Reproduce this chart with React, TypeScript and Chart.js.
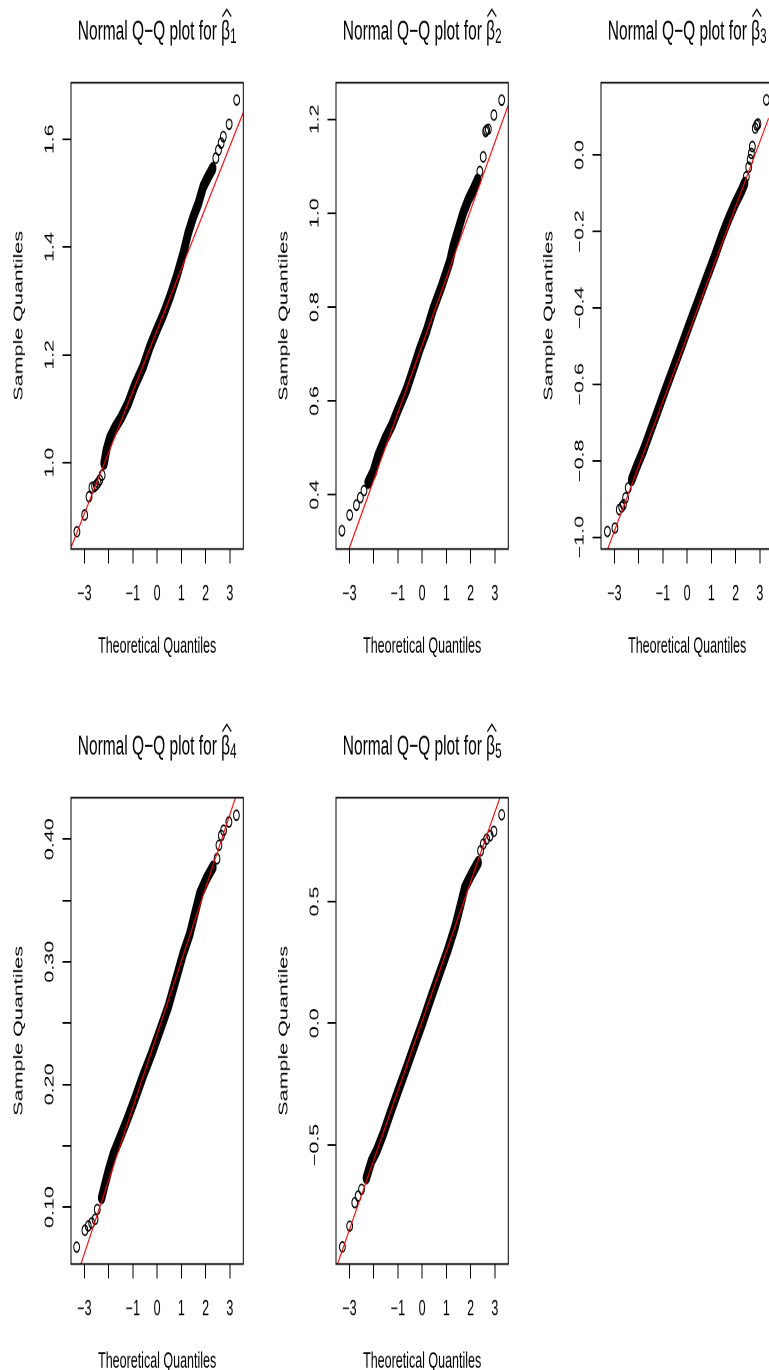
import React, { useEffect, useRef } from "react";
import { Chart, registerables } from "chart.js";

Chart.register(...registerables);

// ---------- data ----------
const xTicks = [-3, -2, -1, 0, 1, 2, 3];
const xTickLabels = ["−3", "", "−1", "0", "1", "2", "3"];
const xRange = [-3.554, 3.554];
const titleMain = "Normal Q−Q plot for ";
const xTitle = "Theoretical Quantiles";
const yTitle = "Sample Quantiles";

// beta 1
const b1SparseQ = [-3.31, -2.99, -2.81, -2.69, -2.58, -2.51, -2.44, -2.37, -2.27, 2.42, 2.53, 2.64, 2.73, 2.97, 3.28];
const b1SparseS = [0.872, 0.903, 0.937, 0.954, 0.956, 0.959, 0.963, 0.968, 0.977, 1.565, 1.58, 1.593, 1.605, 1.628, 1.673];
const b1DenseQ = [-2.19, -2.09, -1.96, -1.75, -1.47, -1.2, -0.92, -0.58, -0.3, -0.02, 0.25, 0.53, 0.8, 1.08, 1.28, 1.49, 1.7, 1.9, 2.11, 2.29];
const b1DenseS = [0.999, 1.024, 1.045, 1.064, 1.085, 1.11, 1.144, 1.178, 1.215, 1.246, 1.274, 1.308, 1.345, 1.389, 1.426, 1.456, 1.481, 1.512, 1.531, 1.546];
const b1LineQ = [-3.57, 3.56];
const b1LineS = [0.841, 1.651];
const b1YRange = [0.84, 1.705];
const b1YTicks = [1.0, 1.2, 1.4, 1.6];
const b1YLabels = ["1.0", "1.2", "1.4", "1.6"];

// beta 2
const b2SparseQ = [-3.31, -2.99, -2.71, -2.55, -2.4, 2.38, 2.52, 2.62, 2.66, 2.73, 2.96, 3.28];
const b2SparseS = [0.3235, 0.357, 0.378, 0.394, 0.409, 1.089, 1.12, 1.174, 1.177, 1.179, 1.209, 1.241];
const b2DenseQ = [-2.23, -2.02, -1.82, -1.54, -1.26, -0.99, -0.64, -0.37, -0.1, 0.18, 0.45, 0.8, 1.14, 1.28, 1.49, 1.69, 1.9, 2.11, 2.29];
const b2DenseS = [0.426, 0.448, 0.483, 0.518, 0.547, 0.582, 0.625, 0.667, 0.71, 0.749, 0.795, 0.844, 0.897, 0.929, 0.965, 1.0, 1.028, 1.05, 1.071];
const b2LineQ = [-3.02, 3.55];
const b2LineS = [0.2846, 1.23];
const b2YRange = [0.2846, 1.278];
const b2YTicks = [0.4, 0.6, 0.8, 1.0, 1.2];
const b2YLabels = ["0.4", "0.6", "0.8", "1.0", "1.2"];

// beta 3
const b3SparseQ = [-3.29, -2.98, -2.8, -2.7, -2.63, -2.54, -2.43, 2.44, 2.54, 2.6, 2.65, 2.69, 2.81, 2.87, 2.92, 3.27];
const b3SparseS = [-0.985, -0.976, -0.928, -0.921, -0.915, -0.897, -0.871, -0.057, -0.032, -0.012, 0.004, 0.022, 0.07, 0.078, 0.081, 0.144];
const b3DenseQ = [-2.29, -2.08, -1.81, -1.53, -1.26, -0.92, -0.58, -0.23, 0.11, 0.45, 0.8, 1.14, 1.42, 1.69, 1.96, 2.24, 2.37];
const b3DenseS = [-0.85, -0.815, -0.774, -0.725, -0.678, -0.618, -0.56, -0.5, -0.44, -0.382, -0.322, -0.265, -0.214, -0.17, -0.13, -0.094, -0.074];
const b3LineQ = [-3.29, 3.36];
const b3LineS = [-1.033, 0.096];
const b3YRange = [-1.031, 0.189];
const b3YTicks = [-1.0, -0.8, -0.6, -0.4, -0.2, 0.0];
const b3YLabels = ["−1.0", "−0.8", "−0.6", "−0.4", "−0.2", "0.0"];

// beta 4
const b4SparseQ = [-3.32, -2.98, -2.84, -2.7, -2.56, -2.47, 2.47, 2.55, 2.65, 2.74, 2.96, 3.27];
const b4SparseS = [0.0673, 0.081, 0.0845, 0.087, 0.09, 0.098, 0.384, 0.395, 0.403, 0.4072, 0.414, 0.4195];
const b4DenseQ = [-2.29, -2.12, -2.01, -1.81, -1.53, -1.26, -0.92, -0.58, -0.23, 0.11, 0.45, 0.8, 1.07, 1.35, 1.55, 1.76, 2.03, 2.3];
const b4DenseS = [0.1076, 0.121, 0.1294, 0.143, 0.1566, 0.17, 0.188, 0.207, 0.2248, 0.2438, 0.2628, 0.2873, 0.3065, 0.3228, 0.339, 0.3555, 0.3677, 0.3772];
const b4LineQ = [-3.15, 3.24];
const b4LineS = [0.0532, 0.4344];
const b4YRange = [0.0535, 0.4338];
const b4YTicks = [0.1, 0.15, 0.2, 0.25, 0.3, 0.35, 0.4];
const b4YLabels = ["0.10", "", "0.20", "", "0.30", "", "0.40"];

// beta 5
const b5SparseQ = [-3.29, -2.99, -2.78, -2.64, -2.5, 2.41, 2.52, 2.66, 2.8, 2.96, 3.28];
const b5SparseS = [-0.919, -0.833, -0.737, -0.71, -0.682, 0.708, 0.736, 0.756, 0.77, 0.788, 0.856];
const b5DenseQ = [-2.3, -2.09, -1.88, -1.61, -1.33, -0.99, -0.64, -0.3, 0.04, 0.39, 0.73, 1.07, 1.35, 1.56, 1.76, 2.04, 2.31];
const b5DenseS = [-0.635, -0.566, -0.525, -0.456, -0.374, -0.278, -0.182, -0.086, 0.009, 0.112, 0.208, 0.304, 0.393, 0.475, 0.557, 0.612, 0.66];
const b5LineQ = [-3.5, 3.21];
const b5LineS = [-0.991, 0.927];
const b5YRange = [-0.989, 0.926];
const b5YTicks = [-0.5, 0.0, 0.5];
const b5YLabels = ["−0.5", "0.0", "0.5"];

// ---------- layout ----------
const FONT = "'Liberation Sans', Arial, Helvetica, sans-serif";
const K = 1.72; // vertical stretch of the whole figure
const PANEL_W = 265;
const PANEL_H = 714.5;
const CANVAS_H = 416;
const PLOT_LEFT = 71;
const PLOT_RIGHT = 243.3;
const PLOT_TOP = 82.7; // real px
const PLOT_BOTTOM = 549; // real px
const TICK_LEN = 8.5;
const AXIS_FONT = 12.5;
const TITLE_FONT = 15.5;

const pairs = (xs: number[], ys: number[]) => xs.map((x, i) => ({ x, y: ys[i] }));

const boxPlugin = {
  id: "qqBox",
  afterDatasetsDraw(chart: any) {
    const { ctx, chartArea: a } = chart;
    ctx.save();
    ctx.strokeStyle = "#000";
    ctx.lineWidth = 1;
    ctx.strokeRect(a.left, a.top, a.right - a.left, a.bottom - a.top);
    ctx.restore();
  },
};

const titlePlugin = {
  id: "qqTitle",
  afterDraw(chart: any, _args: any, opts: any) {
    const { ctx, chartArea } = chart;
    const f = TITLE_FONT;
    const sf = f * 0.75;
    ctx.save();
    ctx.fillStyle = "#000";
    ctx.strokeStyle = "#000";
    ctx.textAlign = "left";
    ctx.textBaseline = "alphabetic";
    ctx.font = `${f}px ${FONT}`;
    const wMain = ctx.measureText(titleMain).width;
    const wBeta = ctx.measureText("β").width;
    ctx.font = `${sf}px ${FONT}`;
    const wSub = ctx.measureText(opts.sub).width;
    const total = wMain + wBeta + wSub;
    const cx = (chartArea.left + chartArea.right) / 2;
    let x = cx - total / 2;
    const base = 39.3 / K;
    ctx.font = `${f}px ${FONT}`;
    ctx.fillText(titleMain, x, base);
    x += wMain;
    ctx.fillText("β", x, base);
    // hat accent
    ctx.lineWidth = 1;
    ctx.beginPath();
    ctx.moveTo(x + 1.2, base - 13.2);
    ctx.lineTo(x + wBeta / 2 + 1.2, base - 17.4);
    ctx.lineTo(x + wBeta + 1.2, base - 13.2);
    ctx.stroke();
    x += wBeta;
    ctx.font = `${sf}px ${FONT}`;
    ctx.fillText(opts.sub, x, base + 2.4);
    ctx.restore();
  },
};

type PanelSpec = {
  sub: string;
  sparseQ: number[];
  sparseS: number[];
  denseQ: number[];
  denseS: number[];
  lineQ: number[];
  lineS: number[];
  yRange: number[];
  yTicks: number[];
  yLabels: string[];
};

const panels: PanelSpec[] = [
  { sub: "1", sparseQ: b1SparseQ, sparseS: b1SparseS, denseQ: b1DenseQ, denseS: b1DenseS, lineQ: b1LineQ, lineS: b1LineS, yRange: b1YRange, yTicks: b1YTicks, yLabels: b1YLabels },
  { sub: "2", sparseQ: b2SparseQ, sparseS: b2SparseS, denseQ: b2DenseQ, denseS: b2DenseS, lineQ: b2LineQ, lineS: b2LineS, yRange: b2YRange, yTicks: b2YTicks, yLabels: b2YLabels },
  { sub: "3", sparseQ: b3SparseQ, sparseS: b3SparseS, denseQ: b3DenseQ, denseS: b3DenseS, lineQ: b3LineQ, lineS: b3LineS, yRange: b3YRange, yTicks: b3YTicks, yLabels: b3YLabels },
  { sub: "4", sparseQ: b4SparseQ, sparseS: b4SparseS, denseQ: b4DenseQ, denseS: b4DenseS, lineQ: b4LineQ, lineS: b4LineS, yRange: b4YRange, yTicks: b4YTicks, yLabels: b4YLabels },
  { sub: "5", sparseQ: b5SparseQ, sparseS: b5SparseS, denseQ: b5DenseQ, denseS: b5DenseS, lineQ: b5LineQ, lineS: b5LineS, yRange: b5YRange, yTicks: b5YTicks, yLabels: b5YLabels },
];

function QQPanel({ spec, left, top }: { spec: PanelSpec; left: number; top: number }) {
  const ref = useRef<HTMLCanvasElement | null>(null);

  useEffect(() => {
    const canvas = ref.current;
    if (!canvas) return;

    // widest y label, to centre the rotated labels 22px left of the axis
    const mctx = document.createElement("canvas").getContext("2d")!;
    mctx.font = `${AXIS_FONT}px ${FONT}`;
    const widest = Math.max(...spec.yLabels.map((l) => mctx.measureText(l).width));
    const yPad = 21 - TICK_LEN - widest / 2;
    const lineH = AXIS_FONT * 1.2;

    const chart = new Chart(canvas, {
      type: "scatter",
      data: {
        datasets: [
          {
            type: "line",
            data: pairs(spec.lineQ, spec.lineS),
            borderColor: "#ff0000",
            borderWidth: 1,
            pointRadius: 0,
            order: 0,
          } as any,
          {
            type: "scatter",
            data: [...pairs(spec.sparseQ, spec.sparseS), ...pairs(spec.denseQ, spec.denseS)],
            pointStyle: "circle",
            pointRadius: 2.9,
            borderColor: "#000",
            borderWidth: 1,
            backgroundColor: "rgba(0,0,0,0)",
            order: 1,
          },
          {
            type: "line",
            data: pairs(spec.denseQ, spec.denseS),
            borderColor: "#000",
            borderWidth: 7.5,
            borderCapStyle: "round",
            borderJoinStyle: "round",
            pointRadius: 0,
            order: 2,
          } as any,
        ],
      },
      options: {
        responsive: false,
        animation: false,
        devicePixelRatio: 2,
        events: [],
        layout: { padding: { top: PLOT_TOP / K, right: PANEL_W - PLOT_RIGHT, left: 0, bottom: 0 } },
        plugins: {
          legend: { display: false },
          tooltip: { enabled: false },
          title: { display: false },
          qqTitle: { sub: spec.sub },
        } as any,
        scales: {
          x: {
            type: "linear",
            position: "bottom",
            min: xRange[0],
            max: xRange[1],
            afterBuildTicks: (s: any) => {
              s.ticks = xTicks.map((v) => ({ value: v }));
            },
            afterFit: (s: any) => {
              s.height = CANVAS_H - PLOT_BOTTOM / K;
            },
            ticks: {
              autoSkip: false,
              minRotation: 0,
              maxRotation: 0,
              padding: 10.6,
              color: "#000",
              font: { size: AXIS_FONT, family: FONT },
              callback: (_v: any, i: number) => xTickLabels[i],
            },
            grid: { display: true, drawOnChartArea: false, drawTicks: true, tickLength: TICK_LEN, color: "#000", lineWidth: 1 },
            border: { display: false },
            title: {
              display: true,
              text: xTitle,
              color: "#000",
              font: { size: AXIS_FONT, family: FONT },
              padding: { top: 0, bottom: CANVAS_H - 646.5 / K - lineH / 2 },
            },
          },
          y: {
            type: "linear",
            position: "left",
            min: spec.yRange[0],
            max: spec.yRange[1],
            afterBuildTicks: (s: any) => {
              s.ticks = spec.yTicks.map((v) => ({ value: v }));
            },
            afterFit: (s: any) => {
              s.width = PLOT_LEFT;
            },
            ticks: {
              autoSkip: false,
              minRotation: 90,
              maxRotation: 90,
              crossAlign: "center",
              padding: yPad,
              color: "#000",
              font: { size: AXIS_FONT, family: FONT },
              callback: (_v: any, i: number) => spec.yLabels[i],
            },
            grid: { display: true, drawOnChartArea: false, drawTicks: true, tickLength: TICK_LEN, color: "#000", lineWidth: 1 },
            border: { display: false },
            title: {
              display: true,
              text: yTitle,
              color: "#000",
              font: { size: AXIS_FONT, family: FONT },
              padding: { top: 19 - lineH / 2, bottom: 0 },
            },
          },
        },
      } as any,
      plugins: [boxPlugin, titlePlugin],
    });

    return () => chart.destroy();
  }, [spec]);

  return (
    <div style={{ position: "absolute", left, top, width: PANEL_W, height: CANVAS_H * K }}>
      <div style={{ width: PANEL_W, height: CANVAS_H, transform: `scale(1, ${K})`, transformOrigin: "0 0" }}>
        <canvas ref={ref} width={PANEL_W} height={CANVAS_H} style={{ width: PANEL_W, height: CANVAS_H, display: "block" }} />
      </div>
    </div>
  );
}

export default function App() {
  return (
    <div
      style={{
        position: "absolute",
        left: 0,
        top: 0,
        width: 769,
        height: 1370,
        overflow: "hidden",
        background: "#fff",
      }}
    >
      {panels.map((p, i) => (
        <QQPanel key={i} spec={p} left={(i % 3) * PANEL_W} top={Math.floor(i / 3) * PANEL_H} />
      ))}
    </div>
  );
}
